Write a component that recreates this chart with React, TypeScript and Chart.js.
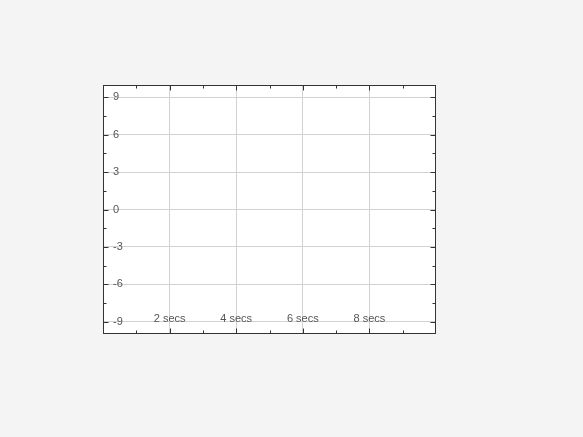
import React, { useEffect, useRef } from "react";
import { Chart, registerables } from "chart.js";

Chart.register(...registerables);

// ---- data ----
const xMin = 0;
const xMax = 10;
const xMajorTicks = [2, 4, 6, 8];
const xMinorTicks = [1, 3, 5, 7, 9];
const xTickLabels = ["2 secs", "4 secs", "6 secs", "8 secs"];

const yMin = -10;
const yMax = 10;
const yMajorTicks = [-9, -6, -3, 0, 3, 6, 9];
const yMinorTicks = [-7.5, -4.5, -1.5, 1.5, 4.5, 7.5];
const yTickLabels = ["-9", "-6", "-3", "0", "3", "6", "9"];

const FRAME_COLOR = "#333333";
const GRID_COLOR = "#d2d2d2";
const TEXT_COLOR = "#555555";
const FONT_FAMILY = "'Liberation Sans', Arial, sans-serif";

const framePlugin = {
  id: "frame",
  beforeDraw(chart: any) {
    const { ctx, chartArea: a } = chart;
    ctx.save();
    ctx.fillStyle = "#ffffff";
    ctx.fillRect(a.left, a.top, a.right - a.left, a.bottom - a.top);
    ctx.restore();
  },
  afterDraw(chart: any) {
    const { ctx, chartArea: a, scales } = chart;
    const xs = scales.x;
    const ys = scales.y;
    const L = Math.round(a.left) + 0.5;
    const R = Math.round(a.right) - 0.5;
    const T = Math.round(a.top) + 0.5;
    const B = Math.round(a.bottom) - 0.5;
    ctx.save();
    ctx.strokeStyle = FRAME_COLOR;
    ctx.lineWidth = 1;
    ctx.beginPath();
    const vTick = (v: number, len: number) => {
      const px = Math.round(xs.getPixelForValue(v)) + 0.5;
      ctx.moveTo(px, B);
      ctx.lineTo(px, B - len);
      ctx.moveTo(px, T);
      ctx.lineTo(px, T + len);
    };
    const hTick = (v: number, len: number) => {
      const py = Math.round(ys.getPixelForValue(v)) + 0.5;
      ctx.moveTo(L, py);
      ctx.lineTo(L + len, py);
      ctx.moveTo(R, py);
      ctx.lineTo(R - len, py);
    };
    xMajorTicks.forEach((v) => vTick(v, 5));
    xMinorTicks.forEach((v) => vTick(v, 3));
    yMajorTicks.forEach((v) => hTick(v, 5));
    yMinorTicks.forEach((v) => hTick(v, 3));
    ctx.stroke();
    ctx.strokeRect(L, T, R - L, B - T);
    ctx.restore();
  },
};

export default function App() {
  const ref = useRef<HTMLCanvasElement | null>(null);

  useEffect(() => {
    if (!ref.current) return;
    const chart = new Chart(ref.current, {
      type: "line",
      data: { datasets: [] },
      plugins: [framePlugin],
      options: {
        animation: false,
        responsive: false,
        devicePixelRatio: 1,
        layout: { padding: { left: 103, top: 85, right: 147, bottom: 103 } },
        plugins: {
          legend: { display: false },
          tooltip: { enabled: false },
          title: { display: false },
        },
        scales: {
          x: {
            type: "linear",
            position: "bottom",
            min: xMin,
            max: xMax,
            afterBuildTicks: (s: any) => {
              s.ticks = xMajorTicks.map((v) => ({ value: v }));
            },
            afterFit: (s: any) => {
              s.height = 0;
            },
            border: { display: false },
            grid: { color: GRID_COLOR, lineWidth: 1, drawTicks: false },
            ticks: {
              mirror: true,
              padding: 8,
              autoSkip: false,
              maxRotation: 0,
              color: TEXT_COLOR,
              font: { family: FONT_FAMILY, size: 11 },
              callback: (v: any) => {
                const i = xMajorTicks.indexOf(Number(v));
                return i >= 0 ? xTickLabels[i] : "";
              },
            },
          },
          y: {
            type: "linear",
            position: "left",
            min: yMin,
            max: yMax,
            afterBuildTicks: (s: any) => {
              s.ticks = yMajorTicks.map((v) => ({ value: v }));
            },
            afterFit: (s: any) => {
              s.width = 0;
            },
            border: { display: false },
            grid: { color: GRID_COLOR, lineWidth: 1, drawTicks: false },
            ticks: {
              mirror: true,
              padding: 10,
              autoSkip: false,
              color: TEXT_COLOR,
              font: { family: FONT_FAMILY, size: 11 },
              callback: (v: any) => {
                const i = yMajorTicks.indexOf(Number(v));
                return i >= 0 ? yTickLabels[i] : "";
              },
            },
          },
        },
      } as any,
    });
    return () => chart.destroy();
  }, []);

  return (
    <div
      style={{
        position: "absolute",
        left: 0,
        top: 0,
        width: 583,
        height: 437,
        background: "#f4f4f4",
      }}
    >
      <canvas ref={ref} width={583} height={437} style={{ display: "block" }} />
    </div>
  );
}
